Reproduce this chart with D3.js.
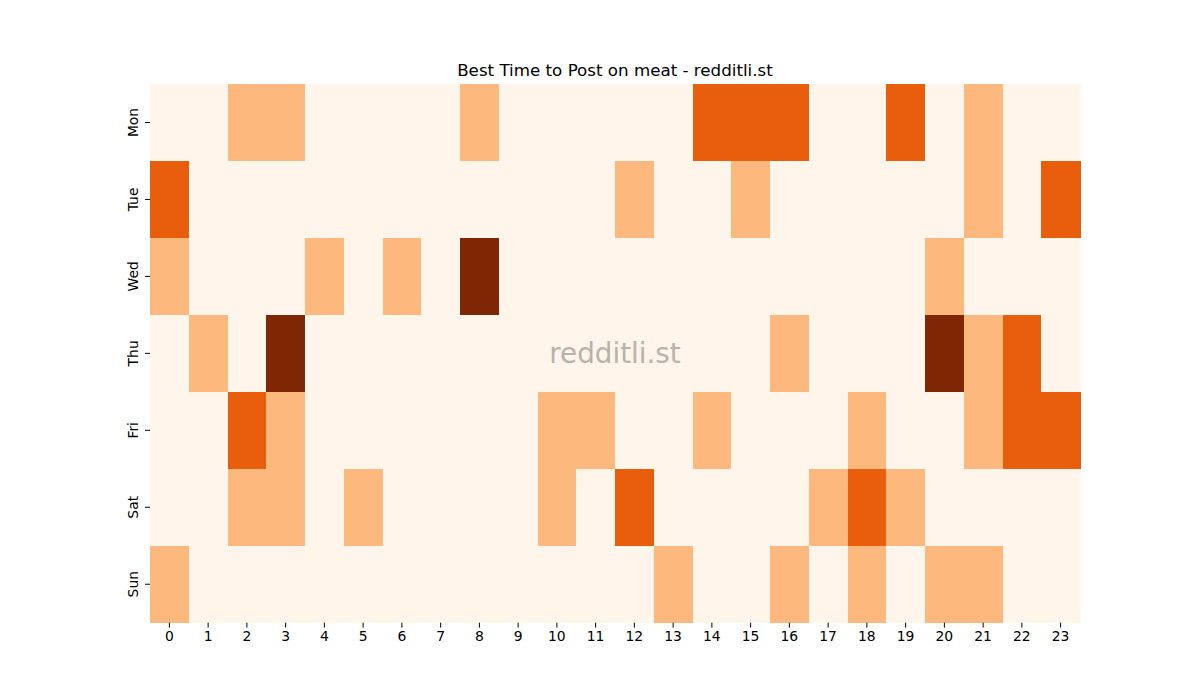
<!DOCTYPE html>
<html><head><meta charset="utf-8">
<script src="https://cdn.jsdelivr.net/npm/d3@7"></script>
<style>body{margin:0;background:#fff;} text{font-family:"DejaVu Sans",sans-serif;}</style>
</head><body>
<svg id="c" width="1200" height="700"></svg>
<script>
const days = ["Mon","Tue","Wed","Thu","Fri","Sat","Sun"];
const hours = d3.range(24);
const monVals = [0,0,1,1,0,0,0,0,1,0,0,0,0,0,2,2,2,0,0,2,0,1,0,0];
const tueVals = [2,0,0,0,0,0,0,0,0,0,0,0,1,0,0,1,0,0,0,0,0,1,0,2];
const wedVals = [1,0,0,0,1,0,1,0,3,0,0,0,0,0,0,0,0,0,0,0,1,0,0,0];
const thuVals = [0,1,0,3,0,0,0,0,0,0,0,0,0,0,0,0,1,0,0,0,3,1,2,0];
const friVals = [0,0,2,1,0,0,0,0,0,0,1,1,0,0,1,0,0,0,1,0,0,1,2,2];
const satVals = [0,0,1,1,0,1,0,0,0,0,1,0,2,0,0,0,0,1,2,1,0,0,0,0];
const sunVals = [1,0,0,0,0,0,0,0,0,0,0,0,0,1,0,0,1,0,1,0,1,1,0,0];
const rows = [monVals,tueVals,wedVals,thuVals,friVals,satVals,sunVals];
const levelColors = ["#fff5eb","#fdb97d","#e95e0d","#7f2704"];

const svg = d3.select("#c");
const L=150,R=1080,T=84,B=622.7;
const x = d3.scaleBand().domain(hours).range([L,R]).padding(0);
const y = d3.scaleBand().domain(days).range([T,B]).padding(0);
const color = d3.scaleOrdinal().domain([0,1,2,3]).range(levelColors);

const cells = [];
rows.forEach((r,i)=>r.forEach((v,j)=>cells.push({day:days[i],hour:j,v})));
svg.append("g").selectAll("rect").data(cells).join("rect")
  .attr("x",d=>x(d.hour)).attr("y",d=>y(d.day))
  .attr("width",x.bandwidth()+0.5).attr("height",y.bandwidth()+0.5)
  .attr("fill",d=>color(d.v)).attr("shape-rendering","crispEdges");

const xa = svg.append("g").attr("transform",`translate(0,${B})`)
  .call(d3.axisBottom(x).tickSize(4.9).tickPadding(4));
xa.select(".domain").remove();
xa.selectAll("text").attr("font-size","13.9px").attr("fill","#000").style("font-family","DejaVu Sans");
xa.selectAll("line").attr("stroke","#000").attr("stroke-width",1);

const ya = svg.append("g").attr("transform",`translate(${L},0)`)
  .call(d3.axisLeft(y).tickSize(4.9).tickFormat(""));
ya.select(".domain").remove();
ya.selectAll("line").attr("stroke","#000");
svg.append("g").selectAll("text").data(days).join("text")
  .attr("transform",d=>`translate(${L-12},${y(d)+y.bandwidth()/2}) rotate(-90)`)
  .attr("text-anchor","middle").attr("font-size","13.9px").attr("fill","#000").text(d=>d);

svg.append("text").attr("x",(L+R)/2).attr("y",76).attr("text-anchor","middle")
  .attr("font-size","16.7px").attr("fill","#000").text("Best Time to Post on meat - redditli.st");

svg.append("text").attr("x",(L+R)/2).attr("y",353).attr("text-anchor","middle")
  .attr("dominant-baseline","central").attr("font-size","27.8px").attr("fill","#b9b1aa")
  .text("redditli.st");
</script>
</body></html>
